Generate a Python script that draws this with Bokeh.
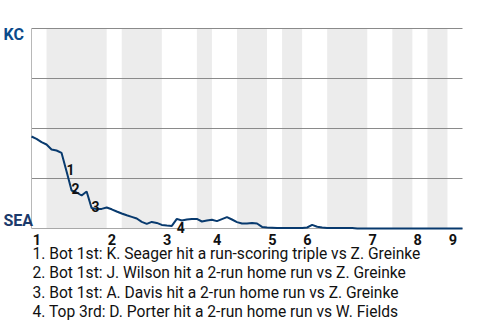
import numpy as np
from bokeh.plotting import figure
from bokeh.models import Range1d
from bokeh.core.properties import value
from bokeh.embed import file_html
from bokeh.resources import INLINE

# ---------------- data ----------------
teams = ["KC", "SEA"]
inning_labels = ["1", "2", "3", "4", "5", "6", "7", "8", "9"]
# plate-appearance events in each half inning (top 1st, bot 1st, top 2nd, ...)
half_inning_events = [3, 12, 3, 8, 7, 3, 5, 6, 3, 4, 5, 8, 5, 4, 3, 4, 3]
# KC win probability (%) after each event
kc_win_pct = [
    46.0, 44.8, 43.2, 42.0, 39.5, 39.0, 37.8, 28.5, 19.0, 18.0,
    16.5, 18.5, 10.2, 9.8, 9.8, 10.5, 9.6, 8.5, 7.5, 6.6,
    5.8, 5.0, 3.3, 2.3, 3.3, 2.8, 1.8, 1.5, 1.3, 4.8,
    4.0, 4.5, 4.8, 4.8, 3.5, 4.0, 4.4, 3.7, 4.7, 5.7,
    4.5, 3.2, 2.5, 2.5, 2.8, 2.5, 0.8, 0.5, 0.4, 0.2,
    0.2, 0.2, 0.2, 0.2, 0.2, 0.5, 1.8, 0.9, 0.5, 0.2,
    0.2, 0.2, 0.2, 0.2, 0.2, 0.0, 0.0, 0.0, 0.0, 0.0,
    0.0, 0.0, 0.0, 0.0, 0.0, 0.0, 0.0, 0.0, 0.0, 0.0,
    0.0, 0.0, 0.0, 0.0, 0.0, 0.0, 0.0,
]
event_index = [7, 8, 12, 29]
event_marks = ["1", "2", "3", "4"]
event_notes = [
    "1. Bot 1st: K. Seager hit a run-scoring triple vs Z. Greinke",
    "2. Bot 1st: J. Wilson hit a 2-run home run vs Z. Greinke",
    "3. Bot 1st: A. Davis hit a 2-run home run vs Z. Greinke",
    "4. Top 3rd: D. Porter hit a 2-run home run vs W. Fields",
]

# ---------------- layout ----------------
W, H = 480, 320
L, R, T, B = 31, 18, 28, 92
n = sum(half_inning_events)
px = (W - L - R) / n          # pixels per event
py = (H - T - B) / 100.0      # pixels per percent

def ydata(screen_y):
    return (H - B - screen_y) / py

def xdata(screen_x):
    return (screen_x - L) / px

p = figure(width=W, height=H, output_backend="svg", toolbar_location=None,
           x_range=Range1d(xdata(0), xdata(W)), y_range=Range1d(ydata(H), ydata(0)),
           x_axis_type=None, y_axis_type=None, min_border=0)
p.outline_line_color = None
p.background_fill_color = "white"
p.border_fill_color = "white"

edges = np.concatenate([[0], np.cumsum(half_inning_events)])

# shaded bottom halves
bl = [edges[i] for i in range(1, len(half_inning_events), 2)]
br = [edges[i + 1] for i in range(1, len(half_inning_events), 2)]
p.quad(left=bl, right=br, bottom=0, top=100, fill_color="#ececec", line_color=None)

# gridlines
grid_y = [25, 50, 75, 100]
p.segment(x0=[0] * 4, x1=[n] * 4, y0=grid_y, y1=grid_y, line_color="#8a8a8a", line_width=1)
# axes lines
p.segment(x0=[0], x1=[n], y0=[0], y1=[0], line_color="#a8a8a8", line_width=1)
p.segment(x0=[0], x1=[0], y0=[0], y1=[100], line_color="#b8b8b8", line_width=1)

# win probability line
p.line(x=list(range(len(kc_win_pct))), y=kc_win_pct, line_color="#083a6e", line_width=2)

# event markers
ex, ey = [], []
for idx in event_index:
    up = kc_win_pct[idx] > kc_win_pct[idx - 1]
    sy = (H - B) - kc_win_pct[idx] * py
    ex.append(idx - 0.2 / px)
    ey.append(ydata(sy + (8.5 if up else -2)))
p.text(x=ex, y=ey, text=event_marks, text_font=value("Roboto"), text_font_style="bold",
       text_font_size="14px", text_color="#111111", text_align="left", text_baseline="alphabetic")

# inning tick labels
tops = [edges[i] for i in range(0, len(half_inning_events), 2)]
p.text(x=[t + 1.2 / px for t in tops], y=[ydata(238.8)] * len(tops), text=inning_labels,
       text_font=value("Roboto"), text_font_style="bold", text_font_size="14.5px",
       text_color="#111111", text_align="left", text_baseline="alphabetic")

# team labels
p.text(x=[xdata(3), xdata(3)], y=[ydata(34.0), ydata(219.6)], text=teams,
       text_font=value("Roboto"), text_font_style="bold", text_font_size="16px",
       text_color=["#0b4a8a", "#1b3a6b"], text_align="left", text_baseline="alphabetic")

# notes
p.text(x=[xdata(32)] * len(event_notes), y=[ydata(253.4 + 19.4 * i) for i in range(len(event_notes))],
       text=event_notes, text_font=value("Roboto"), text_font_size="15.6px", text_color="#111111",
       text_align="left", text_baseline="alphabetic")

open("out.html", "w").write(file_html(p, INLINE))
